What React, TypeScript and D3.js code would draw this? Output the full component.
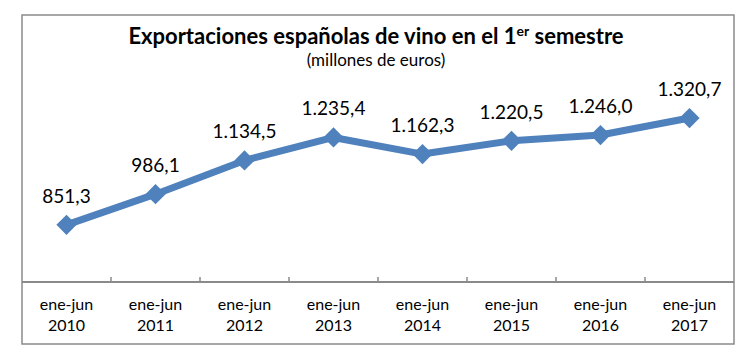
import React, { useEffect, useRef } from 'react'
import * as d3 from 'd3'

const years = ['2010', '2011', '2012', '2013', '2014', '2015', '2016', '2017']
const values = [851.3, 986.1, 1134.5, 1235.4, 1162.3, 1220.5, 1246.0, 1320.7]
const valueLabels = ['851,3', '986,1', '1.134,5', '1.235,4', '1.162,3', '1.220,5', '1.246,0', '1.320,7']

const W = 756
const H = 359
const font = 'Lato, "Open Sans", sans-serif'

export default function App() {
  const ref = useRef<SVGSVGElement>(null)

  useEffect(() => {
    const svg = d3.select(ref.current)
    svg.selectAll('*').remove()

    const left = 22, right = 734, top = 15, bottom = 344, axisY = 282

    svg.append('rect').attr('width', W).attr('height', H).attr('fill', '#fff')
    svg.append('rect')
      .attr('x', left).attr('y', top)
      .attr('width', right - left).attr('height', bottom - top)
      .attr('fill', 'none').attr('stroke', '#8a8a8a').attr('stroke-width', 1.5)

    const x = d3.scaleBand().domain(years).range([left, right])
    const y = d3.scaleLinear().domain([600, 1400]).range([axisY, 100])

    // category axis
    const ax = svg.append('g').attr('transform', `translate(0,${axisY})`)
    ax.append('line').attr('x1', left).attr('x2', right)
      .attr('stroke', '#8a8a8a').attr('stroke-width', 2)
    ax.selectAll('.tick')
      .data(years.slice(1))
      .enter().append('line')
      .attr('x1', d => x(d)!).attr('x2', d => x(d)!)
      .attr('y1', 0).attr('y2', -5)
      .attr('stroke', '#8a8a8a').attr('stroke-width', 1.5)
    const lab = ax.selectAll('.lab').data(years).enter().append('text')
      .attr('x', d => x(d)! + x.bandwidth() / 2)
      .attr('text-anchor', 'middle')
      .attr('font-family', font).attr('font-size', 16).attr('fill', '#000')
    lab.append('tspan').attr('x', d => x(d)! + x.bandwidth() / 2).attr('y', 28).text('ene-jun')
    lab.append('tspan').attr('x', d => x(d)! + x.bandwidth() / 2).attr('y', 49).text(d => d)

    // line
    const line = d3.line<number>()
      .x((_, i) => x(years[i])! + x.bandwidth() / 2)
      .y(d => y(d))
    svg.append('path').datum(values)
      .attr('d', line)
      .attr('fill', 'none').attr('stroke', '#4f81bd')
      .attr('stroke-width', 7).attr('stroke-linejoin', 'round')

    const diamond = d3.symbol().type(d3.symbolDiamond2).size(260)
    svg.selectAll('.pt').data(values).enter().append('path')
      .attr('d', diamond)
      .attr('transform', (d, i) => `translate(${x(years[i])! + x.bandwidth() / 2},${y(d)})`)
      .attr('fill', '#4f81bd')

    svg.selectAll('.val').data(values).enter().append('text')
      .attr('x', (_, i) => x(years[i])! + x.bandwidth() / 2)
      .attr('y', d => y(d) - 22)
      .attr('text-anchor', 'middle')
      .attr('font-family', font).attr('font-size', 19).attr('fill', '#000')
      .text((_, i) => valueLabels[i])

    // title
    const t = svg.append('text')
      .attr('x', 376).attr('y', 44)
      .attr('text-anchor', 'middle')
      .attr('font-family', font).attr('font-size', 22).attr('font-weight', 'bold')
    t.append('tspan').text('Exportaciones españolas de vino en el 1')
    t.append('tspan').attr('font-size', 14).attr('dy', -8).text('er')
    t.append('tspan').attr('dy', 8).text(' semestre')

    svg.append('text')
      .attr('x', 376).attr('y', 66)
      .attr('text-anchor', 'middle')
      .attr('font-family', font).attr('font-size', 17)
      .text('(millones de euros)')
  }, [])

  return (
    <div style={{ position: 'absolute', left: 0, top: 0 }}>
      <svg ref={ref} width={W} height={H} />
    </div>
  )
}
